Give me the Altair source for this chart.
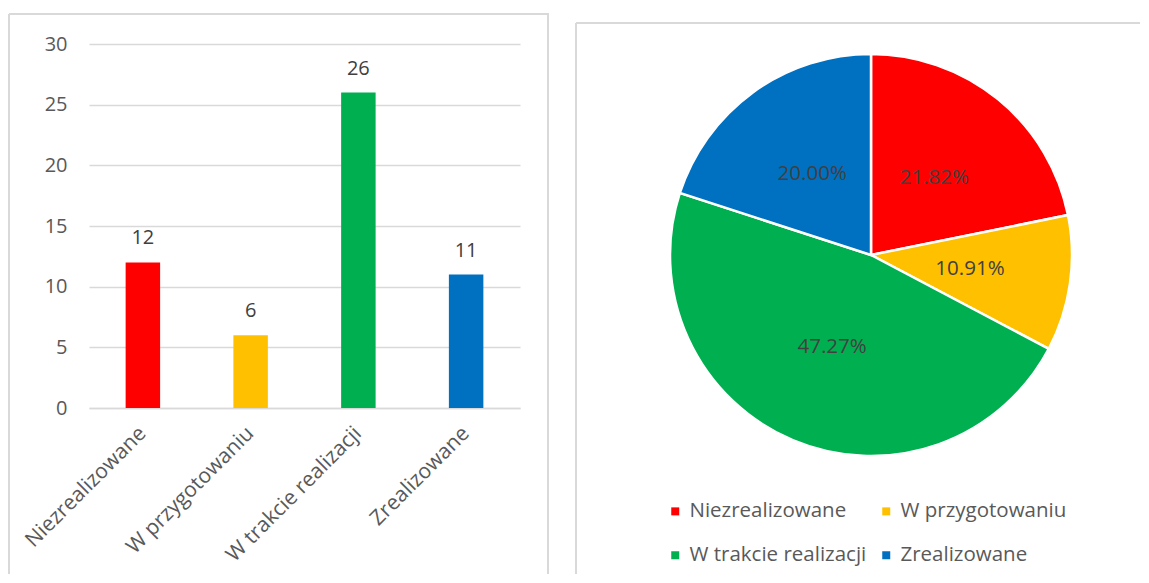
import altair as alt
import pandas as pd

categories = ["Niezrealizowane", "W przygotowaniu", "W trakcie realizacji", "Zrealizowane"]
values = [12, 6, 26, 11]
colors = ["#FF0000", "#FFC000", "#00B050", "#0070C0"]
y_ticks = [0, 5, 10, 15, 20, 25, 30]

df = pd.DataFrame({"cat": categories, "value": values, "idx": list(range(len(categories)))})
one = pd.DataFrame({"k": [0]})

FONT = "Open Sans"
BORDER = "#D9D9D9"
TEXT = "#404040"
AXIS_TXT = "#595959"

legend = alt.Legend(
    title=None, orient="none", legendX=576, legendY=457, columns=2, direction="horizontal",
    symbolType="square", symbolSize=64, symbolStrokeWidth=0,
    labelFont=FONT, labelFontSize=20.5, labelColor=AXIS_TXT, labelLimit=400,
    labelOffset=4, rowPadding=23, columnPadding=9,
)
color = alt.Color("cat:N", scale=alt.Scale(domain=categories, range=colors), legend=legend, sort=categories)

base = alt.Chart(df)

bars = base.mark_bar().encode(
    x=alt.X("cat:N", sort=categories, title=None,
            scale=alt.Scale(paddingInner=0.68, paddingOuter=0.34),
            axis=alt.Axis(labelAngle=-45, labelAlign="right", labelBaseline="middle",
                          labelPadding=22, ticks=False, domain=True, domainColor=BORDER,
                          domainWidth=1.5, labelFont=FONT, labelFontSize=21,
                          labelColor=AXIS_TXT, labelLimit=400)),
    y=alt.Y("value:Q", stack=None, title=None,
            scale=alt.Scale(domain=[0, 30], nice=False),
            axis=alt.Axis(values=y_ticks, grid=True, gridColor=BORDER, gridWidth=1.5,
                          domain=False, ticks=False, labelPadding=22, labelFont=FONT,
                          labelFontSize=20, labelColor=AXIS_TXT)),
    color=color,
)

bar_labels = base.mark_text(baseline="alphabetic", dy=-18, font=FONT, fontSize=20, color=TEXT).encode(
    x=alt.X("cat:N", sort=categories),
    y=alt.Y("value:Q", stack=None),
    text=alt.Text("value:Q"),
)

CX, CY = 782, 211
pie = base.mark_arc(outerRadius=201, stroke="white", strokeWidth=2.5).encode(
    theta=alt.Theta("value:Q", stack=True),
    color=color,
    order=alt.Order("idx:Q"),
    x=alt.value(CX), y=alt.value(CY),
)

pie_labels = base.transform_joinaggregate(total="sum(value)").transform_calculate(
    pct="datum.value / datum.total"
).mark_text(radius=100, font=FONT, fontSize=20.5, color=TEXT, align="center", baseline="middle").encode(
    theta=alt.Theta("value:Q", stack=True),
    order=alt.Order("idx:Q"),
    text=alt.Text("pct:Q", format=".2%"),
    x=alt.value(CX), y=alt.value(CY),
)

def rule(x, y, x2=None, y2=None):
    enc = {"x": alt.value(x), "y": alt.value(y)}
    if x2 is not None:
        enc["x2"] = alt.value(x2)
    if y2 is not None:
        enc["y2"] = alt.value(y2)
    return alt.Chart(one).mark_rule(color=BORDER, strokeWidth=2).encode(**enc)

borders = [
    rule(-80, -30, y2=530),
    rule(-80, -30, x2=460),
    rule(459, -30, y2=530),
    rule(487, -21, y2=530),
    rule(487, -21, x2=1051),
]

chart = alt.layer(bars, bar_labels, pie, pie_labels, *borders).properties(
    width=431, height=364,
    padding={"left": 0, "top": 5, "right": 0, "bottom": 0},
    background="white",
).configure_view(stroke=None)

chart.save("out.html", embed_options={"renderer": "svg", "actions": False})
